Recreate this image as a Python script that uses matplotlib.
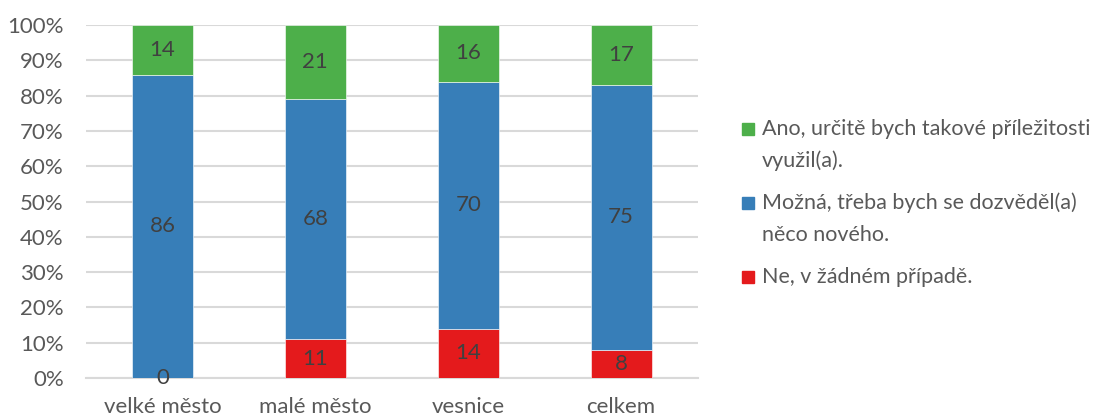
import numpy as np
import matplotlib
matplotlib.use("Agg")
import matplotlib.pyplot as plt
from matplotlib.patches import Rectangle
from matplotlib.ticker import PercentFormatter

plt.rcParams['font.family'] = ['Lato', 'DejaVu Sans']

# data
categories = ['velké město', 'malé město', 'vesnice', 'celkem']
ne = [0, 11, 14, 8]
mozna = [86, 68, 70, 75]
ano = [14, 21, 16, 17]
series_labels = ['Ne, v žádném případě.',
                 'Možná, třeba bych se dozvěděl(a)\nněco nového.',
                 'Ano, určitě bych takové příležitosti\nvyužil(a).']
colors = ['#e41a1c', '#377eb8', '#4daf4a']

text_col = '#595959'
label_col = '#404040'
grid_col = '#d9d9d9'

W, H = 1102, 419
fig = plt.figure(figsize=(W / 100, H / 100), dpi=100)
ax = fig.add_axes([0.078, 0.098, 0.555, 0.842])

x = np.arange(len(categories))
bottom = np.zeros(len(categories))
for vals, lab, col in zip([ne, mozna, ano], series_labels, colors):
    vals = np.array(vals, dtype=float)
    ax.bar(x, vals, 0.4, bottom=bottom, color=col, label=lab,
           edgecolor='white', linewidth=0.4, zorder=3)
    for xi, v, bt in zip(x, vals, bottom):
        ax.text(xi, bt + v / 2, f'{int(v)}', ha='center', va='center',
                fontsize=16, color=label_col, zorder=4)
    bottom += vals

ax.set_xlim(-0.5, len(categories) - 0.5)
ax.set_ylim(0, 100)
ax.set_yticks(np.arange(0, 101, 10))
ax.yaxis.set_major_formatter(PercentFormatter(decimals=0))
ax.set_xticks(x)
ax.set_xticklabels(categories)
ax.tick_params(length=0, labelsize=16, colors=text_col)
ax.tick_params(axis='x', pad=14)
ax.tick_params(axis='y', pad=16)
ax.grid(axis='y', color=grid_col, linewidth=1.5, zorder=0)
for s in ['top', 'right', 'left']:
    ax.spines[s].set_visible(False)
ax.spines['bottom'].set_color(grid_col)
ax.spines['bottom'].set_linewidth(1.5)

# legend drawn by hand: square aligned with the first line of each label
leg_rows = [129, 203, 277]   # pixel y of first line of each entry
line_gap = 32
for lab, col, y0 in zip(series_labels[::-1], colors[::-1], leg_rows):
    fig.add_artist(Rectangle((742 / W, 1 - (y0 + 6) / H), 12 / W, 12 / H,
                             transform=fig.transFigure, color=col))
    for i, line in enumerate(lab.split('\n')):
        fig.text(762 / W, 1 - (y0 + i * line_gap) / H, line, ha='left',
                 va='center', fontsize=15.5, color=text_col)

fig.savefig('out.png', dpi=100)
